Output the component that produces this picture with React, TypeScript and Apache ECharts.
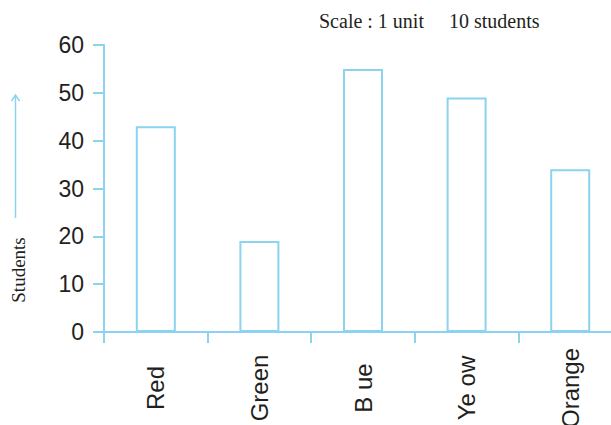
import React, { useEffect, useRef } from "react";
import * as echarts from "echarts";

const categories = ["Red", "Green", "B ue", "Ye ow", "Orange"];
const students = [43, 19, 55, 49, 34];
const yTicks = { min: 0, max: 60, interval: 10 };
const scaleLeft = "Scale : 1 unit";
const scaleRight = "10 students";
const yTitle = "Students";

const BLUE = "#8ad3f1";
const INK = "#231f20";

export default function App() {
  const ref = useRef<HTMLDivElement>(null);
  useEffect(() => {
    if (!ref.current) return;
    const chart = echarts.init(ref.current, undefined, { renderer: "svg" });
    chart.setOption({
      animation: false,
      backgroundColor: "#ffffff",
      grid: {
        left: 104,
        top: 45,
        width: 518,
        height: 287,
        containLabel: false,
        outerBoundsMode: "none",
      },
      xAxis: {
        type: "category",
        data: categories,
        boundaryGap: true,
        axisLine: { show: true, lineStyle: { color: BLUE, width: 2 } },
        axisTick: { show: true, length: 11, alignWithLabel: false, lineStyle: { color: BLUE, width: 2 } },
        axisLabel: {
          rotate: 90,
          align: "center",
          verticalAlign: "middle",
          margin: 56,
          fontSize: 24,
          fontFamily: "Liberation Sans, Arial, sans-serif",
          color: INK,
        },
        splitLine: { show: false },
      },
      yAxis: {
        type: "value",
        min: yTicks.min,
        max: yTicks.max,
        interval: yTicks.interval,
        axisLine: { show: true, lineStyle: { color: BLUE, width: 2 } },
        axisTick: { show: true, length: 11, lineStyle: { color: BLUE, width: 2 } },
        axisLabel: {
          margin: 20,
          fontSize: 23,
          fontFamily: "Liberation Sans, Arial, sans-serif",
          color: INK,
        },
        splitLine: { show: false },
      },
      series: [
        {
          type: "bar",
          data: students,
          barWidth: 40,
          itemStyle: { color: "#ffffff", borderColor: BLUE, borderWidth: 2 },
          z: 1,
        },
      ],
      graphic: [
        {
          type: "text",
          left: 319,
          top: 11,
          style: { text: scaleLeft, font: '20px "Liberation Serif", "Times New Roman", serif', fill: INK },
        },
        {
          type: "text",
          left: 449,
          top: 11,
          style: { text: scaleRight, font: '20px "Liberation Serif", "Times New Roman", serif', fill: INK },
        },
        {
          type: "text",
          x: 18,
          y: 270,
          rotation: Math.PI / 2,
          style: {
            text: yTitle,
            font: '19px "Liberation Serif", "Times New Roman", serif',
            fill: INK,
            align: "center",
            verticalAlign: "middle",
          },
        },
        {
          type: "line",
          shape: { x1: 15.5, y1: 96, x2: 15.5, y2: 218 },
          style: { stroke: BLUE, lineWidth: 1.5 },
        },
        {
          type: "polyline",
          shape: { points: [[11.5, 101], [15.5, 95], [19.5, 101]] },
          style: { stroke: BLUE, lineWidth: 1.5, fill: "none" },
        },
      ],
    });
    return () => chart.dispose();
  }, []);
  return <div ref={ref} style={{ width: 611, height: 425, position: "absolute", left: 0, top: 0 }} />;
}
